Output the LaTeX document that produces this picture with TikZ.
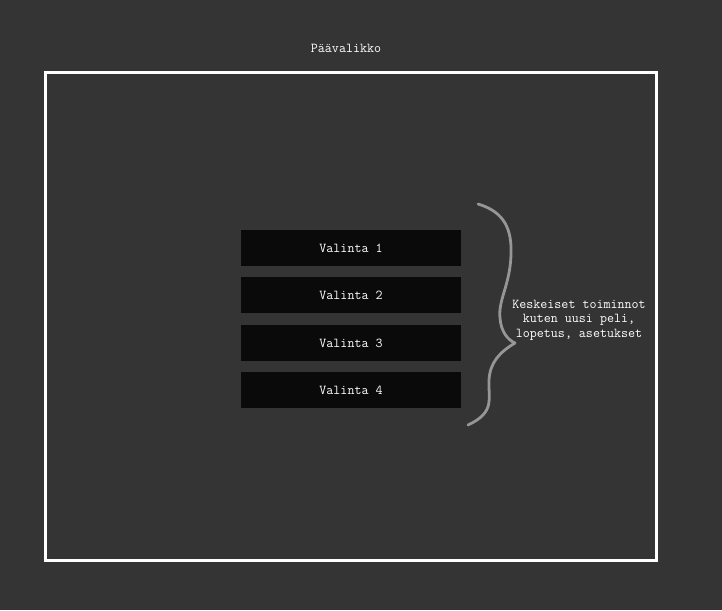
\documentclass[tikz,border=0pt]{standalone}
\usepackage{fontspec}
\definecolor{bg}{RGB}{52,52,52}
\definecolor{boxfill}{RGB}{10,10,10}
\definecolor{bracecol}{RGB}{150,150,150}
\begin{document}
\begin{tikzpicture}[x=1pt,y=-1pt,
  lbl/.style={text=white,font=\ttfamily\fontsize{13.6}{14.5}\selectfont,inner sep=0pt,outer sep=0pt},
  choice/.style={lbl,fill=boxfill,minimum width=220pt,minimum height=36pt,anchor=north west}]
\fill[bg] (0,0) rectangle (722,610);
\useasboundingbox (0,0) rectangle (722,610);
\node[draw=white,line width=2.5pt,minimum width=611pt,minimum height=488pt,anchor=north west,inner sep=0pt,outer sep=0pt] (frame) at (45.5,72.5) {};
\node[lbl] (title) at (346,48) {Päävalikko};
\node[choice] (v1) at (241,230) {Valinta 1};
\node[choice] (v2) at (241,277) {Valinta 2};
\node[choice] (v3) at (241,325) {Valinta 3};
\node[choice] (v4) at (241,372) {Valinta 4};
\coordinate (bs) at (478,204);
\coordinate (btip) at (515,343);
\coordinate (be) at (468,425);
\draw[bracecol,line width=2.8pt,line cap=round,line join=round]
  (bs) .. controls (505,212) and (512,230) .. (511,255)
  .. controls (510,285) and (498,300) .. (500,318)
  .. controls (501,332) and (508,340) .. (btip)
  .. controls (500,352) and (490,362) .. (489,380)
  .. controls (488,398) and (496,412) .. (be);
\node[lbl,align=center] (note) at (579,320) {Keskeiset toiminnot\\ kuten uusi peli,\\ lopetus, asetukset};
\end{tikzpicture}
\end{document}
